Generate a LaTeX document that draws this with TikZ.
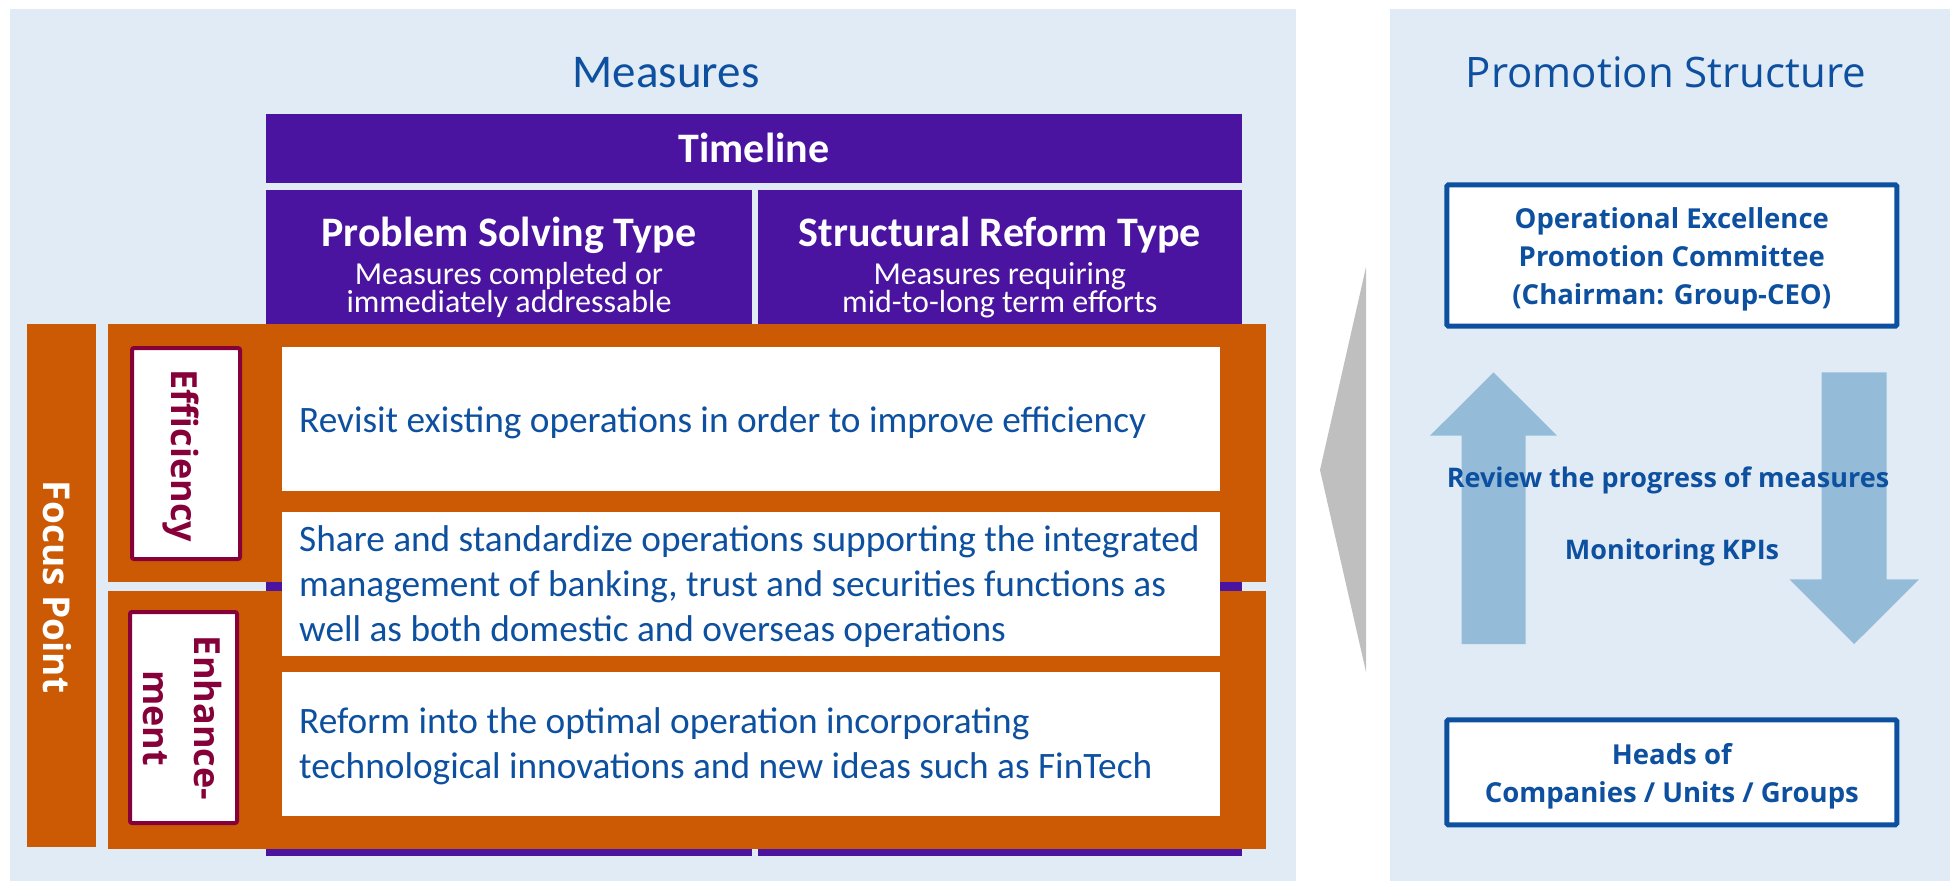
\documentclass[tikz,border=0pt]{standalone}
\usepackage{fontspec}
\setmainfont{Carlito}
\newfontfamily\meiryo{Open Sans}
\definecolor{panelbg}{RGB}{225,235,245}
\definecolor{purpleC}{RGB}{74,20,160}
\definecolor{orangeC}{RGB}{204,90,4}
\definecolor{crimsonC}{RGB}{134,0,58}
\definecolor{blueC}{RGB}{14,80,160}
\definecolor{arrowC}{RGB}{148,188,217}
\definecolor{grayC}{RGB}{191,191,191}
\begin{document}
\begin{tikzpicture}[x=1pt,y=-1pt,
    box/.style={rectangle,inner sep=0pt,outer sep=0pt},
    purplebox/.style={box,fill=purpleC},
    orangebox/.style={box,fill=orangeC,minimum width=1158,minimum height=258},
    whitebox/.style={box,fill=white,minimum width=938,minimum height=144},
    labelbox/.style={box,draw=crimsonC,fill=white,line width=4pt,rounded corners=2pt},
    pbox/.style={box,draw=blueC,fill=white,line width=5pt,rounded corners=1.5pt,minimum width=450},
    ptext/.style={inner sep=0pt,text=blueC,align=center,font=\meiryo\bfseries\fontsize{27.5}{38.3}\selectfont},
    headtext/.style={inner sep=0pt,anchor=base,text=white,font=\bfseries\fontsize{42}{44}\selectfont},
    subtext/.style={inner sep=0pt,anchor=north,text=white,align=center,font=\fontsize{32}{28.4}\selectfont},
    bodytext/.style={inner sep=0pt,anchor=west,text=blueC,align=left,font=\fontsize{37.3}{45}\selectfont},
    labeltext/.style={inner sep=0pt,text=crimsonC,font=\meiryo\bfseries\fontsize{36}{51}\selectfont},
    arrowtext/.style={inner sep=0pt,anchor=base,text=blueC,font=\meiryo\bfseries\fontsize{27}{33}\selectfont}]

  \useasboundingbox (0,0) rectangle (1953,881);

  % panels
  \node[box,fill=panelbg,minimum width=1286,minimum height=872] (measuresPanel) at (653,445) {};
  \node[box,fill=panelbg,minimum width=560,minimum height=872] (promoPanel) at (1670,445) {};

  \node[anchor=base,inner sep=0pt,text=blueC,font=\fontsize{47}{50}\selectfont] (measuresTitle) at (666,87) {Measures};
  \node[anchor=base,inner sep=0pt,text=blueC,font=\meiryo\fontsize{42}{50}\selectfont] (promoTitle) at (1666,87) {Promotion Structure};

  % timeline columns
  \node[purplebox,minimum width=976,minimum height=69] (timeline) at (754,148.5) {};
  \node[purplebox,minimum width=486,minimum height=666] (problem) at (509,523) {};
  \node[purplebox,minimum width=484.5,minimum height=666] (structural) at (999.75,523) {};

  \node[headtext] (timelineText) at (754,162) {Timeline};
  \node[headtext] (problemText) at (509,246.7) {Problem Solving Type};
  \node[headtext] (structuralText) at (999.75,246.7) {Structural Reform Type};
  \node[subtext] (problemSub) at (509,262) {Measures completed or\\immediately addressable};
  \node[subtext] (structuralSub) at (999.75,262) {Measures requiring\\mid-to-long term efforts};

  % focus points
  \node[box,fill=orangeC,minimum width=69,minimum height=523] (focus) at (61.5,585.5) {};
  \node[orangebox] (efficiency) at (687,453) {};
  \node[orangebox] (enhancement) at (687,720) {};

  \foreach \yc/\name in {419/measureA,584/measureB,744/measureC}{
    \node[whitebox] (\name) at (751,\yc) {};
  }

  \node[labelbox,minimum width=108,minimum height=211] (effLabel) at (186,453.5) {};
  \node[labelbox,minimum width=107,minimum height=211] (enhLabel) at (183.5,717.5) {};

  \node[labeltext,text=white,font=\meiryo\bfseries\fontsize{37}{45}\selectfont,rotate=-90,anchor=base] (focusText) at (43,587) {Focus Point};
  \node[labeltext,rotate=-90,anchor=base] (effText) at (171.7,456) {Efficiency};
  \node[labeltext,rotate=-90,align=center] (enhText) at (182,718) {Enhance-\\ment};

  \node[bodytext] (measureAText) at (299,423) {Revisit existing operations in order to improve efficiency};
  \node[bodytext] (measureBText) at (299,587) {Share and standardize operations supporting the integrated\\management of banking, trust and securities functions as\\well as both domestic and overseas operations};
  \node[bodytext] (measureCText) at (299,746) {Reform into the optimal operation incorporating\\technological innovations and new ideas such as FinTech};

  % pointer
  \fill[grayC] (1320,470) -- (1366,267) -- (1366,672) -- cycle;

  % promotion structure
  \fill[arrowC] (1493.5,372.3) -- (1557,435.7) -- (1525.7,435.7) -- (1525.7,644) -- (1461.7,644) -- (1461.7,435.7) -- (1430,435.7) -- cycle;
  \fill[arrowC] (1821.7,372.3) -- (1886.7,372.3) -- (1886.7,579.3) -- (1919,579.3) -- (1854.2,644) -- (1789.3,579.3) -- (1821.7,579.3) -- cycle;

  \node[pbox,minimum height=141.4] (committee) at (1671.8,255.5) {};
  \node[pbox,minimum height=105] (heads) at (1671.8,772.3) {};
  \node[ptext] (committeeText) at (1671.8,259.5) {Operational Excellence\\Promotion Committee\\(Chairman: Group-CEO)};
  \node[ptext] (headsText) at (1671.8,776) {Heads of\\Companies / Units / Groups};

  \node[arrowtext] (reviewText) at (1668,487.7) {Review the progress of measures};
  \node[arrowtext] (kpiText) at (1672,559) {Monitoring KPIs};

\end{tikzpicture}
\end{document}
